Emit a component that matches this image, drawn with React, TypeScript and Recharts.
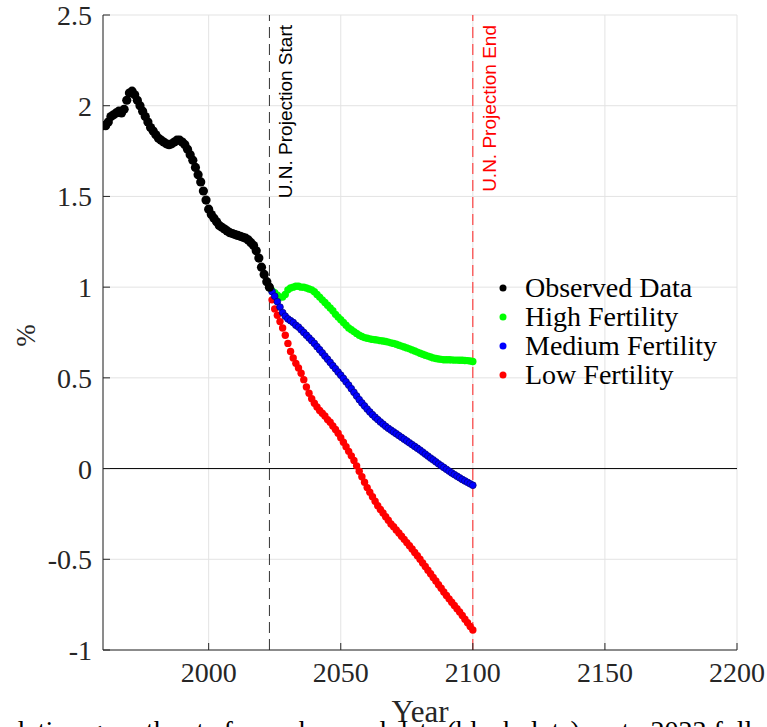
import React from "react";
import {
  ScatterChart,
  Scatter,
  XAxis,
  YAxis,
  CartesianGrid,
  ReferenceLine,
  Legend,
} from "recharts";

// annual growth rate, %
const OBSERVED_START = 1960;
const PROJECTION_START = 2023;
const PROJECTION_END = 2100;

const observedRate = [
  1.89, 1.89, 1.91, 1.94, 1.95, 1.96, 1.97, 1.96, 1.98, 2.03,
  2.07, 2.08, 2.06, 2.03, 2.0, 1.97, 1.94, 1.91, 1.88, 1.86,
  1.84, 1.82, 1.81, 1.8, 1.79, 1.785, 1.79, 1.8, 1.81, 1.81,
  1.8, 1.785, 1.76, 1.73, 1.7, 1.66, 1.62, 1.58, 1.53, 1.48,
  1.43, 1.4, 1.38, 1.36, 1.34, 1.33, 1.32, 1.31, 1.3, 1.295,
  1.29, 1.285, 1.28, 1.275, 1.27, 1.26, 1.245, 1.23, 1.2, 1.16,
  1.11, 1.07, 1.03, 1.0,
];

const highFertility = [
  1.0, 0.98, 0.97, 0.955, 0.945, 0.945, 0.96, 0.985, 0.995, 1.0,
  1.005, 1.005, 1.0, 1.0, 0.995, 0.99, 0.985, 0.975, 0.96, 0.945,
  0.93, 0.915, 0.9, 0.885, 0.87, 0.85, 0.835, 0.82, 0.805, 0.79,
  0.775, 0.765, 0.755, 0.745, 0.735, 0.728, 0.722, 0.718, 0.715, 0.712,
  0.71, 0.708, 0.705, 0.703, 0.7, 0.697, 0.693, 0.69, 0.685, 0.68,
  0.675, 0.67, 0.665, 0.66, 0.654, 0.648, 0.642, 0.636, 0.63, 0.625,
  0.62, 0.615, 0.61, 0.607, 0.604, 0.602, 0.6, 0.6, 0.6, 0.599,
  0.598, 0.598, 0.597, 0.597, 0.596, 0.595, 0.593, 0.59,
];

const mediumFertility = [
  1.0, 0.975, 0.95, 0.92, 0.89, 0.86, 0.84, 0.825, 0.815, 0.805,
  0.79, 0.78, 0.765, 0.75, 0.735, 0.72, 0.705, 0.69, 0.672, 0.655,
  0.638, 0.62, 0.603, 0.585, 0.567, 0.55, 0.532, 0.515, 0.497, 0.478,
  0.46, 0.44, 0.42, 0.4, 0.38, 0.362, 0.345, 0.328, 0.312, 0.297,
  0.283, 0.27, 0.257, 0.245, 0.233, 0.222, 0.212, 0.202, 0.192, 0.182,
  0.172, 0.162, 0.152, 0.142, 0.132, 0.122, 0.112, 0.102, 0.091, 0.08,
  0.069, 0.058, 0.048, 0.037, 0.026, 0.016, 0.006, -0.004, -0.014, -0.024,
  -0.033, -0.042, -0.051, -0.06, -0.068, -0.076, -0.084, -0.092,
];

const lowFertility = [
  1.0, 0.93, 0.88, 0.845, 0.81, 0.775, 0.735, 0.69, 0.645, 0.61,
  0.58, 0.555, 0.525, 0.49, 0.45, 0.415, 0.385, 0.36, 0.34, 0.32,
  0.305, 0.29, 0.27, 0.255, 0.235, 0.215, 0.195, 0.17, 0.145, 0.12,
  0.095, 0.07, 0.045, 0.015, -0.015, -0.045, -0.075, -0.105, -0.13, -0.155,
  -0.18, -0.205, -0.225, -0.245, -0.265, -0.285, -0.305, -0.32, -0.338, -0.355,
  -0.373, -0.39, -0.408, -0.425, -0.443, -0.462, -0.48, -0.5, -0.52, -0.54,
  -0.56, -0.58, -0.6, -0.62, -0.64, -0.66, -0.68, -0.7, -0.718, -0.737,
  -0.755, -0.773, -0.79, -0.81, -0.83, -0.85, -0.87, -0.89,
];

const xTicks = [2000, 2050, 2100, 2150, 2200];
const yTicks = [-1, -0.5, 0, 0.5, 1, 1.5, 2, 2.5];

const toPoints = (start: number, values: number[]) =>
  values.map((rate, i) => ({ year: start + i, rate }));

const legendItems = [
  { name: "Observed Data", color: "#000000" },
  { name: "High Fertility", color: "#00ff00" },
  { name: "Medium Fertility", color: "#0000ff" },
  { name: "Low Fertility", color: "#ff0000" },
];

const SERIF = "'Liberation Serif', 'Times New Roman', serif";
const SANS = "'Liberation Sans', Arial, sans-serif";
const AXIS = "#262626";

const dot =
  (r: number, fill: string, stroke = "none") =>
  (p: any) =>
    (
      <circle
        cx={p.cx}
        cy={p.cy}
        r={r}
        fill={fill}
        stroke={stroke}
        strokeWidth={0.7}
      />
    );

const lineLabel = (text: string, color: string) => (p: any) => {
  const vb = p.viewBox;
  return (
    <text
      transform={`translate(${vb.x + 23},${vb.y + 10}) rotate(-90)`}
      textAnchor="end"
      fill={color}
      fontSize={19}
      fontFamily={SANS}
    >
      {text}
    </text>
  );
};

const renderLegend = () => (
  <div style={{ fontFamily: SERIF, fontSize: 28, lineHeight: "29px", color: "#000" }}>
    {legendItems.map((item) => (
      <div
        key={item.name}
        style={{ display: "flex", alignItems: "center", height: 29, whiteSpace: "nowrap" }}
      >
        <svg width={30} height={29} style={{ flex: "none" }}>
          <circle cx={8} cy={15} r={3.5} fill={item.color} />
        </svg>
        <span>{item.name}</span>
      </div>
    ))}
  </div>
);

export default function App() {
  const tickStyle = { fill: AXIS, fontSize: 28, fontFamily: SERIF };
  return (
    <div
      style={{
        position: "absolute",
        left: 0,
        top: 0,
        width: 767,
        height: 727,
        overflow: "hidden",
        background: "#fff",
      }}
    >
      <ScatterChart
        width={767}
        height={727}
        margin={{ top: 15, right: 30, bottom: 0, left: 0 }}
      >
        <CartesianGrid stroke="#e3e3e3" />
        <XAxis
          type="number"
          dataKey="year"
          domain={[1960, 2200]}
          ticks={xTicks}
          interval={0}
          allowDataOverflow
          height={77}
          tickSize={-7}
          tickMargin={19}
          axisLine={{ stroke: AXIS }}
          tickLine={{ stroke: AXIS }}
          tick={tickStyle}
          label={{
            content: (p: any) => (
              <text
                x={p.viewBox.x + p.viewBox.width / 2}
                y={p.viewBox.y + 72}
                textAnchor="middle"
                fill={AXIS}
                fontSize={31}
                fontFamily={SERIF}
              >
                Year
              </text>
            ),
          }}
        />
        <YAxis
          type="number"
          dataKey="rate"
          domain={[-1, 2.5]}
          ticks={yTicks}
          interval={0}
          allowDataOverflow
          width={103}
          tickSize={-7}
          tickMargin={18}
          axisLine={{ stroke: AXIS }}
          tickLine={{ stroke: AXIS }}
          tick={tickStyle}
          label={{
            content: (p: any) => (
              <text
                transform={`translate(${p.viewBox.x + 26},${p.viewBox.y + p.viewBox.height / 2 + 3}) rotate(-90)`}
                textAnchor="middle"
                dominantBaseline="central"
                fill={AXIS}
                fontSize={27}
                fontFamily={SERIF}
              >
                %
              </text>
            ),
          }}
        />
        <ReferenceLine y={0} stroke="#000" strokeWidth={1} />
        <ReferenceLine
          x={PROJECTION_START}
          stroke="#333"
          strokeDasharray="11 6"
          label={{ content: lineLabel("U.N. Projection Start", "#000") }}
        />
        <ReferenceLine
          x={PROJECTION_END}
          stroke="#ff2020"
          strokeDasharray="11 6"
          label={{ content: lineLabel("U.N. Projection End", "#ff0000") }}
        />
        <Legend
          layout="vertical"
          align="center"
          verticalAlign="middle"
          content={renderLegend}
          wrapperStyle={{ position: "absolute", left: 495, top: 273, width: "auto", height: "auto" }}
        />
        <Scatter
          name="Low Fertility"
          data={toPoints(PROJECTION_START, lowFertility)}
          fill="#ff0000"
          shape={dot(3.7, "#ff0000")}
          isAnimationActive={false}
        />
        <Scatter
          name="High Fertility"
          data={toPoints(PROJECTION_START, highFertility)}
          fill="#00ff00"
          shape={dot(3.7, "#00ff00")}
          isAnimationActive={false}
        />
        <Scatter
          name="Medium Fertility"
          data={toPoints(PROJECTION_START, mediumFertility)}
          fill="#0000ff"
          shape={dot(3.4, "#0000ff", "#00007a")}
          isAnimationActive={false}
        />
        <Scatter
          name="Observed Data"
          data={toPoints(OBSERVED_START, observedRate)}
          fill="#000000"
          shape={dot(4.6, "#000000")}
          isAnimationActive={false}
        />
      </ScatterChart>
      <div
        style={{
          position: "absolute",
          left: -40,
          top: 717,
          fontFamily: SERIF,
          fontSize: 28,
          lineHeight: "28px",
          whiteSpace: "nowrap",
          color: "#000",
        }}
      >
        Population growth rate from observed data (black dots) up to 2023 followed by
      </div>
    </div>
  );
}
